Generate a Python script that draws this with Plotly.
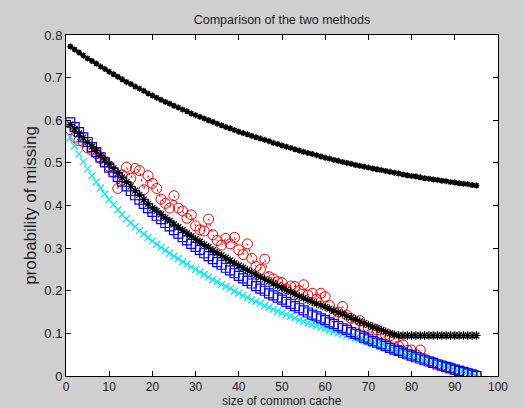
import plotly.graph_objects as go

x_vals = list(range(1, 96))

top_black = [0.773, 0.766, 0.759, 0.752, 0.745, 0.739, 0.733, 0.726, 0.720, 0.714,
             0.708, 0.702, 0.696, 0.690, 0.685, 0.679, 0.674, 0.669, 0.663, 0.658,
             0.653, 0.648, 0.643, 0.639, 0.634, 0.630, 0.625, 0.621, 0.616, 0.612,
             0.608, 0.604, 0.600, 0.596, 0.592, 0.588, 0.584, 0.581, 0.577, 0.573,
             0.570, 0.567, 0.563, 0.560, 0.557, 0.554, 0.551, 0.547, 0.544, 0.541,
             0.538, 0.535, 0.532, 0.529, 0.526, 0.523, 0.521, 0.518, 0.515, 0.512,
             0.510, 0.507, 0.505, 0.502, 0.500, 0.498, 0.495, 0.493, 0.491, 0.489,
             0.487, 0.485, 0.483, 0.481, 0.479, 0.477, 0.475, 0.473, 0.471, 0.469,
             0.468, 0.466, 0.464, 0.463, 0.461, 0.460, 0.458, 0.457, 0.455, 0.454,
             0.452, 0.451, 0.450, 0.448, 0.447]

bottom_black = [0.590, 0.580, 0.569, 0.559, 0.548, 0.538, 0.528, 0.517, 0.507, 0.497,
                0.487, 0.476, 0.466, 0.455, 0.445, 0.435, 0.425, 0.414, 0.404, 0.394,
                0.387, 0.379, 0.371, 0.364, 0.356, 0.349, 0.342, 0.335, 0.328, 0.321,
                0.315, 0.308, 0.302, 0.295, 0.289, 0.283, 0.277, 0.271, 0.265, 0.259,
                0.254, 0.248, 0.243, 0.237, 0.232, 0.227, 0.222, 0.217, 0.212, 0.207,
                0.202, 0.197, 0.192, 0.187, 0.183, 0.178, 0.174, 0.170, 0.166, 0.162,
                0.158, 0.153, 0.149, 0.145, 0.141, 0.137, 0.133, 0.128, 0.124, 0.120,
                0.116, 0.112, 0.108, 0.104, 0.100, 0.097, 0.095, 0.095, 0.095, 0.095,
                0.095, 0.095, 0.095, 0.095, 0.095, 0.095, 0.095, 0.095, 0.095, 0.095,
                0.095, 0.095, 0.095, 0.095, 0.095]

blue_sq = [0.595, 0.584, 0.572, 0.560, 0.549, 0.537, 0.525, 0.513, 0.501, 0.489,
           0.478, 0.467, 0.456, 0.445, 0.434, 0.424, 0.414, 0.404, 0.394, 0.385,
           0.376, 0.368, 0.359, 0.351, 0.342, 0.334, 0.326, 0.318, 0.310, 0.303,
           0.296, 0.288, 0.281, 0.274, 0.267, 0.261, 0.254, 0.248, 0.241, 0.235,
           0.229, 0.223, 0.217, 0.211, 0.205, 0.200, 0.194, 0.189, 0.184, 0.179,
           0.174, 0.169, 0.164, 0.159, 0.154, 0.149, 0.144, 0.140, 0.135, 0.131,
           0.126, 0.122, 0.117, 0.112, 0.108, 0.103, 0.099, 0.095, 0.090, 0.086,
           0.082, 0.078, 0.074, 0.070, 0.066, 0.062, 0.059, 0.055, 0.051, 0.048,
           0.044, 0.041, 0.037, 0.034, 0.031, 0.027, 0.024, 0.021, 0.018, 0.015,
           0.012, 0.009, 0.006, 0.003, 0.000]

cyan_x = [0.560, 0.540, 0.521, 0.503, 0.486, 0.470, 0.455, 0.441, 0.427, 0.414,
          0.402, 0.390, 0.379, 0.369, 0.359, 0.350, 0.341, 0.333, 0.325, 0.317,
          0.309, 0.302, 0.295, 0.288, 0.281, 0.275, 0.268, 0.262, 0.256, 0.250,
          0.244, 0.238, 0.232, 0.226, 0.221, 0.215, 0.210, 0.205, 0.199, 0.194,
          0.189, 0.184, 0.179, 0.175, 0.170, 0.165, 0.161, 0.156, 0.152, 0.148,
          0.144, 0.140, 0.136, 0.132, 0.128, 0.125, 0.121, 0.118, 0.114, 0.111,
          0.108, 0.104, 0.101, 0.098, 0.095, 0.092, 0.089, 0.086, 0.083, 0.080,
          0.077, 0.074, 0.071, 0.068, 0.065, 0.062, 0.059, 0.056, 0.053, 0.050,
          0.047, 0.044, 0.041, 0.038, 0.035, 0.032, 0.029, 0.026, 0.023, 0.020,
          0.017, 0.014, 0.011, 0.008, 0.005]

red_circ = [0.578, 0.560, 0.552, 0.549, 0.535, 0.530, 0.522, 0.510, 0.503, 0.492,
            0.478, 0.440, 0.472, 0.490, 0.464, 0.487, 0.482, 0.437, 0.470, 0.452,
            0.440, 0.415, 0.405, 0.394, 0.423, 0.394, 0.387, 0.370, 0.378, 0.352,
            0.343, 0.340, 0.368, 0.331, 0.318, 0.307, 0.323, 0.310, 0.325, 0.296,
            0.285, 0.310, 0.276, 0.257, 0.250, 0.274, 0.233, 0.228, 0.221, 0.219,
            0.205, 0.211, 0.210, 0.200, 0.214, 0.190, 0.194, 0.180, 0.194, 0.186,
            0.165, 0.139, 0.150, 0.163, 0.143, 0.135, 0.120, 0.130, 0.115, 0.112,
            0.100, 0.108, 0.100, 0.096, 0.094, 0.088, 0.070, 0.073, 0.060, 0.061,
            0.050, 0.061, 0.040, 0.035, 0.032, 0.028, 0.025, 0.022, 0.020, 0.015,
            0.012, 0.010, 0.007, 0.004, 0.002]

x_ticks = [0, 10, 20, 30, 40, 50, 60, 70, 80, 90, 100]
y_ticks = [0, 0.1, 0.2, 0.3, 0.4, 0.5, 0.6, 0.7, 0.8]
y_tick_text = ["0", "0.1", "0.2", "0.3", "0.4", "0.5", "0.6", "0.7", "0.8"]

FONT = "Liberation Sans, Arial, sans-serif"
TXT = "#222222"

fig = go.Figure()

fig.add_trace(go.Scatter(
    x=x_vals, y=red_circ, mode="lines+markers",
    line=dict(color="red", width=1, dash="dot"),
    marker=dict(symbol="circle-open", size=10, color="red", line=dict(width=1)),
))
fig.add_trace(go.Scatter(
    x=x_vals, y=cyan_x, mode="markers",
    marker=dict(symbol="x-thin-open", size=7, color="#10e6ee", line=dict(width=1.3, color="#10e6ee")),
))
fig.add_trace(go.Scatter(
    x=x_vals, y=blue_sq, mode="markers",
    marker=dict(symbol="square-open", size=9, color="blue", line=dict(width=1.2, color="blue")),
))
fig.add_trace(go.Scatter(
    x=x_vals, y=bottom_black, mode="lines+markers",
    line=dict(color="black", width=1.2),
    marker=dict(symbol="asterisk-open", size=7, color="black", line=dict(width=1.2, color="black")),
))
fig.add_trace(go.Scatter(
    x=x_vals, y=top_black, mode="lines+markers",
    line=dict(color="black", width=1),
    marker=dict(symbol="asterisk-open", size=5, color="black", line=dict(width=1.5, color="black")),
))

axis_common = dict(
    showline=True, linecolor="black", linewidth=1, mirror="ticks",
    ticks="inside", ticklen=5, tickcolor="black", tickwidth=1,
    showgrid=False, zeroline=False, automargin=False,
)

fig.update_xaxes(range=[0, 100], tickvals=x_ticks,
                 tickfont=dict(family=FONT, size=12, color=TXT), **axis_common)
fig.update_yaxes(range=[0, 0.8], tickvals=y_ticks, ticktext=y_tick_text,
                 tickfont=dict(family=FONT, size=13, color=TXT),
                 title=dict(text="probability of missing", standoff=3,
                            font=dict(family=FONT, size=17, color=TXT)),
                 **axis_common)

fig.add_annotation(
    text="size of common cache", xref="paper", yref="paper",
    x=0.5, y=-(401 - 376) / 341, xanchor="center", yanchor="middle",
    showarrow=False, font=dict(family=FONT, size=12, color=TXT),
)

fig.update_layout(
    width=525, height=408,
    margin=dict(l=66, r=27, t=35, b=32),
    paper_bgcolor="#cfcfcf", plot_bgcolor="white",
    showlegend=False,
    title=dict(text="Comparison of the two methods", x=0.537, xanchor="center",
               y=1 - 20 / 408, yanchor="middle",
               font=dict(family=FONT, size=12.5, color=TXT)),
)

fig.write_html("out.html")
